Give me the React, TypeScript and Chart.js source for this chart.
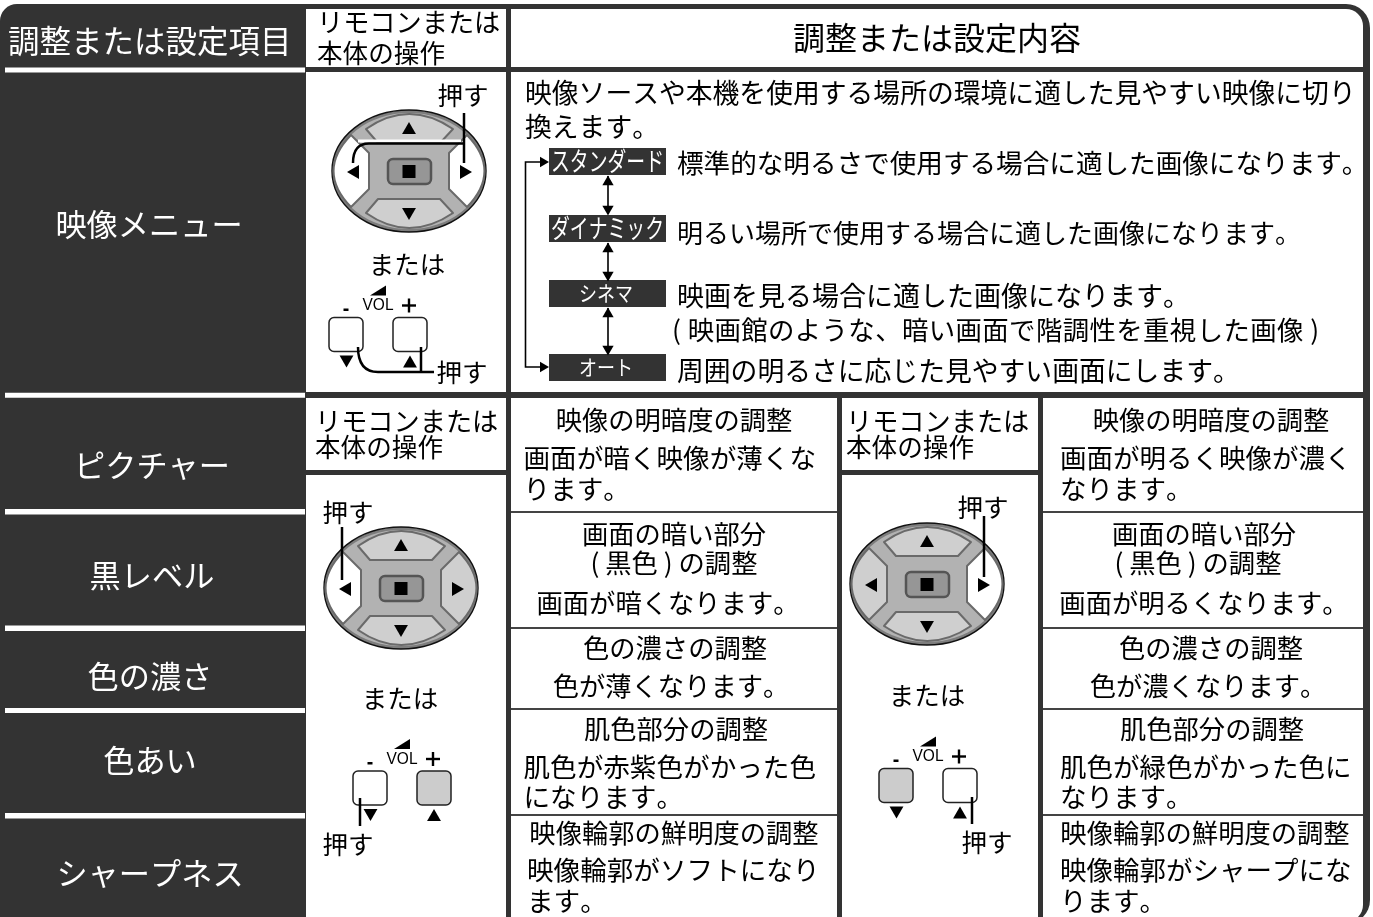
import React, { useEffect, useRef } from "react";
import { Chart, registerables } from "chart.js";

Chart.register(...registerables);

const FONT = '"Noto Sans CJK JP", "Noto Sans", sans-serif';
const DARK = "#333333";

// ---- text content ----
const headerTitles = ["調整または設定項目", "調整または設定内容"];
const controlHeader = ["リモコンまたは", "本体の操作"];
const rowLabels = ["映像メニュー", "ピクチャー", "黒レベル", "色の濃さ", "色あい", "シャープネス"];
const introLines = ["映像ソースや本機を使用する場所の環境に適した見やすい映像に切り", "換えます。"];
const modeNames = ["スタンダード", "ダイナミック", "シネマ", "オート"];
const modeTexts = [
  "標準的な明るさで使用する場合に適した画像になります。",
  "明るい場所で使用する場合に適した画像になります。",
  "映画を見る場合に適した画像になります。",
  "( 映画館のような、暗い画面で階調性を重視した画像 )",
  "周囲の明るさに応じた見やすい画面にします。",
];
const columnATitles = ["映像の明暗度の調整", "画面の暗い部分", "( 黒色 ) の調整", "画面が暗くなります。", "色の濃さの調整", "色が薄くなります。", "肌色部分の調整", "映像輪郭の鮮明度の調整"];
const columnBTitles = ["映像の明暗度の調整", "画面の暗い部分", "( 黒色 ) の調整", "画面が明るくなります。", "色の濃さの調整", "色が濃くなります。", "肌色部分の調整", "映像輪郭の鮮明度の調整"];
const columnAWrapped = ["画面が暗く映像が薄くな", "ります。", "肌色が赤紫色がかった色", "になります。", "映像輪郭がソフトになり", "ます。"];
const columnBWrapped = ["画面が明るく映像が濃く", "なります。", "肌色が緑色がかった色に", "なります。", "映像輪郭がシャープにな", "ります。"];
const pressLabel = "押す";
const orLabel = "または";
const volLabel = "VOL";

// ---- layout (separate from the content above) ----
const rowLabelPos = [[149, 224], [152, 465], [152, 575], [150, 676], [150, 760], [150, 873]];
const leftStrips = [[67.5, 72.5], [392.7, 397.7], [509, 514.5], [625.5, 631], [708, 713], [813, 818.5]];
const columnTitleY = [420, 534, 563, 603, 648, 686, 729, 833];
const columnAX = [674, 674, 674, 668, 675, 671, 676, 674];
const columnBX = [1211, 1204, 1198, 1204, 1211, 1208, 1212, 1205];
const wrappedY = [458, 489, 767, 797, 870, 901];
const thinRules = [512, 628, 709, 815];
const modeBadgeY = [[148, 175], [215, 242], [280, 307], [354, 381]];
const modeTextPos = [[677, 163], [677, 233], [677, 296], [672, 330], [677, 371]];
const modeTextSize = [26.6, 26, 27, 26.4, 26.8];
const modeTextSpacing = ["0px", "0px", "0px", "0.4px", "0px"];
const dpads = [
  { x: 409, y: 171, lit: ["l", "r"] },
  { x: 401, y: 588, lit: ["l"] },
  { x: 927, y: 584, lit: ["r"] },
];
const vols = [
  { x: 378, y: 305.5, fill: "" },
  { x: 402, y: 759, fill: "r" },
  { x: 928, y: 756.5, fill: "l" },
];
const pressPos = [[463, 95], [462, 372], [348, 512], [348, 844], [983, 507], [987, 842]];
const orPos = [[407, 264], [400, 698], [927, 695]];
const modeArrowX = 608;

const bigUp: { x: number; y: number }[] = [];
const bigDown: { x: number; y: number }[] = [];
const bigLeft: { x: number; y: number }[] = [];
const bigRight: { x: number; y: number }[] = [];
dpads.forEach((d) => {
  bigUp.push({ x: d.x, y: d.y - 41 });
  bigDown.push({ x: d.x, y: d.y + 41 });
  bigLeft.push({ x: d.x - 54, y: d.y + 1 });
  bigRight.push({ x: d.x + 55, y: d.y + 1 });
});
vols.forEach((v) => {
  bigDown.push({ x: v.x - 31.5, y: v.y + 54 });
  bigUp.push({ x: v.x + 32, y: v.y + 58 });
});
const smallUp = [{ x: modeArrowX, y: 182 }, { x: modeArrowX, y: 249 }, { x: modeArrowX, y: 314 }];
const smallDown = [{ x: modeArrowX, y: 209 }, { x: modeArrowX, y: 275 }, { x: modeArrowX, y: 349 }];
const smallRight = [{ x: 543, y: 162 }, { x: 543, y: 367 }];

function triSet(data: { x: number; y: number }[], rot: number, r: number) {
  return {
    type: "scatter" as const,
    data,
    pointStyle: "triangle",
    pointRotation: rot,
    pointRadius: r,
    pointHoverRadius: r,
    backgroundColor: "#000",
    borderWidth: 0,
    showLine: false,
    clip: false,
  };
}

const framePlugin = {
  id: "panel",
  beforeDatasetsDraw(chart: any) {
    const c: CanvasRenderingContext2D = chart.ctx;
    const X = (v: number) => chart.scales.x.getPixelForValue(v);
    const Y = (v: number) => chart.scales.y.getPixelForValue(v);
    const box = (x0: number, y0: number, x1: number, y1: number, fill: string, rad: number[] = [0]) => {
      c.beginPath();
      c.roundRect(X(x0), Y(y0), X(x1) - X(x0), Y(y1) - Y(y0), rad);
      c.fillStyle = fill;
      c.fill();
    };
    c.save();
    box(0, 0, 1373, 917, "#fff");
    box(0, 4, 1370, 924, DARK, [17, 24, 24, 0]);
    box(306, 9, 506, 67, "#fff");
    box(511, 9, 1363, 67, "#fff", [0, 17, 0, 0]);
    box(306, 72, 506, 392, "#fff");
    box(511, 72, 1363, 392, "#fff");
    box(306, 398, 506, 470, "#fff");
    box(306, 475, 506, 917, "#fff");
    box(511, 398, 837, 917, "#fff");
    box(842, 398, 1038, 470, "#fff");
    box(842, 475, 1038, 917, "#fff");
    box(1043, 398, 1363, 922, "#fff", [0, 0, 17, 0]);
    leftStrips.forEach(([a, b]) => box(5, a, 305, b, "#fff"));
    thinRules.forEach((y) => {
      box(511, y - 1, 837, y + 1, "#444");
      box(1043, y - 1, 1363, y + 1, "#444");
    });
    modeBadgeY.forEach(([a, b]) => box(549, a, 666, b, DARK));

    // mode loop + double arrows
    c.strokeStyle = "#000";
    c.lineWidth = 1.6;
    c.beginPath();
    c.moveTo(X(542), Y(162));
    c.lineTo(X(525.5), Y(162));
    c.lineTo(X(525.5), Y(367));
    c.lineTo(X(542), Y(367));
    [[176, 214], [243, 279], [308, 353]].forEach(([a, b]) => {
      c.moveTo(X(modeArrowX), Y(a));
      c.lineTo(X(modeArrowX), Y(b));
    });
    c.stroke();

    // direction pads
    dpads.forEach((d) => {
      const P = (dx: number, dy: number): [number, number] => [X(d.x + dx), Y(d.y + dy)];
      c.beginPath();
      c.ellipse(X(d.x), Y(d.y), 77, 61, 0, 0, Math.PI * 2);
      c.fillStyle = "#7d7d7d";
      c.fill();
      c.lineWidth = 1.4;
      c.strokeStyle = "#111";
      c.stroke();
      c.beginPath();
      c.ellipse(X(d.x), Y(d.y), 74, 58, 0, 0, Math.PI * 2);
      c.fillStyle = "#b2b2b2";
      c.fill();
      const lobe = (name: string, pts: number[][]) => {
        c.beginPath();
        c.moveTo(...P(pts[0][0], pts[0][1]));
        c.quadraticCurveTo(...P(pts[1][0], pts[1][1]), ...P(pts[2][0], pts[2][1]));
        c.lineTo(...P(pts[3][0], pts[3][1]));
        c.lineTo(...P(pts[4][0], pts[4][1]));
        c.closePath();
        c.lineJoin = "round";
        c.fillStyle = d.lit.includes(name) ? "#fff" : "#cfcfcf";
        c.fill();
        c.lineWidth = 2;
        c.strokeStyle = "#6a6a6a";
        c.stroke();
      };
      lobe("t", [[-43, -42], [0, -72], [44, -42], [31, -28], [-31, -28]]);
      lobe("b", [[-43, 42], [0, 72], [44, 42], [31, 28], [-31, 28]]);
      lobe("l", [[-58, -36], [-93, 0], [-58, 36], [-40, 18], [-40, -18]]);
      lobe("r", [[58, -36], [93, 0], [58, 36], [40, 18], [40, -18]]);
      c.beginPath();
      c.roundRect(X(d.x - 21), Y(d.y - 12), 43, 25, 5);
      c.fillStyle = "#969696";
      c.fill();
      c.lineWidth = 2.5;
      c.strokeStyle = "#555";
      c.stroke();
      box(d.x - 6.5, d.y - 6, d.x + 6.5, d.y + 7, "#000");
    });

    // volume keys
    vols.forEach((v) => {
      [["l", -49], ["r", 15]].forEach(([name, dx]) => {
        c.beginPath();
        c.roundRect(X(v.x + (dx as number)), Y(v.y + 12), 34, 34, 5);
        c.fillStyle = v.fill === name ? "#cccccc" : "#fff";
        c.fill();
        c.lineWidth = 1.5;
        c.strokeStyle = "#222";
        c.stroke();
      });
      c.beginPath();
      c.moveTo(X(v.x - 8), Y(v.y - 10));
      c.lineTo(X(v.x + 8), Y(v.y - 10));
      c.lineTo(X(v.x + 8), Y(v.y - 20));
      c.closePath();
      c.fillStyle = "#000";
      c.fill();
      box(v.x - 34.5, v.y + 3, v.x - 29.5, v.y + 5.5, "#000");
      box(v.x + 24, v.y - 1.2, v.x + 38, v.y + 1.2, "#000");
      box(v.x + 29.8, v.y - 7, v.x + 32.2, v.y + 7, "#000");
    });
    c.restore();
  },
  afterDatasetsDraw(chart: any) {
    const c: CanvasRenderingContext2D = chart.ctx;
    const X = (v: number) => chart.scales.x.getPixelForValue(v);
    const Y = (v: number) => chart.scales.y.getPixelForValue(v);
    const text = (s: string, x: number, y: number, size: number, color = "#000", align: CanvasTextAlign = "left", maxW?: number, font = FONT) => {
      c.font = `${size}px ${font}`;
      (c as any).fontKerning = "none";
      c.fillStyle = color;
      c.textAlign = align;
      c.textBaseline = "middle";
      if (maxW) c.fillText(s, X(x), Y(y), maxW);
      else c.fillText(s, X(x), Y(y));
    };
    const line = (pts: number[][], w = 2.5, color = "#000") => {
      c.beginPath();
      c.lineWidth = w;
      c.strokeStyle = color;
      pts.forEach((p, i) => (i ? c.lineTo(X(p[0]), Y(p[1])) : c.moveTo(X(p[0]), Y(p[1]))));
      c.stroke();
    };
    c.save();

    // leaders
    line([[358, 141], [461, 141]], 3.2, "#fff");
    line([[464, 113], [464, 163]]);
    c.beginPath();
    c.lineWidth = 2.5;
    c.strokeStyle = "#000";
    c.moveTo(X(464), Y(143.5));
    c.lineTo(X(369), Y(143.5));
    c.quadraticCurveTo(X(353), Y(143.5), X(353), Y(163));
    c.stroke();
    c.beginPath();
    c.moveTo(X(358), Y(347));
    c.quadraticCurveTo(X(358), Y(372), X(378), Y(372));
    c.lineTo(X(434), Y(372));
    c.stroke();
    line([[421, 347], [421, 372]]);
    line([[342, 527], [342, 580]]);
    line([[984, 516], [984, 577]]);
    line([[360, 798], [360, 826]]);
    line([[972, 797], [972, 824]]);

    // header
    text(headerTitles[0], 8, 41, 31.5, "#fff");
    text(headerTitles[1], 937, 38, 32, "#000", "center");
    text(controlHeader[0], 317, 22.5, 26.2);
    text(controlHeader[1], 317, 53, 25.6);
    text(controlHeader[0], 315, 421, 26.2);
    text(controlHeader[1], 315, 447, 25.6);
    text(controlHeader[0], 846, 421, 26.2);
    text(controlHeader[1], 846, 447, 25.6);

    rowLabels.forEach((s, i) => text(s, rowLabelPos[i][0], rowLabelPos[i][1], 31.2, "#fff", "center"));

    text(introLines[0], 525, 93, 26.8);
    text(introLines[1], 525, 127, 26.8);
    modeNames.forEach((s, i) => {
      const mid = (modeBadgeY[i][0] + modeBadgeY[i][1]) / 2;
      if (i < 2) text(s, 607.5, mid, 26, "#fff", "center", 113);
      else text(s, 606, mid, 21, "#fff", "center", 54);
    });
    modeTexts.forEach((s, i) => {
      (c as any).letterSpacing = modeTextSpacing[i];
      text(s, modeTextPos[i][0], modeTextPos[i][1], modeTextSize[i]);
    });
    (c as any).letterSpacing = "0px";

    columnATitles.forEach((s, i) => text(s, columnAX[i], columnTitleY[i], 26.3, "#000", "center"));
    columnBTitles.forEach((s, i) => text(s, columnBX[i], columnTitleY[i], 26.3, "#000", "center"));
    columnAWrapped.forEach((s, i) => text(s, i > 3 ? 527 : 523.5, wrappedY[i], 26.6));
    columnBWrapped.forEach((s, i) => text(s, 1060, wrappedY[i], 26.5));

    pressPos.forEach(([x, y]) => text(pressLabel, x, y, 25.5, "#000", "center"));
    orPos.forEach(([x, y]) => text(orLabel, x, y, 25.5, "#000", "center"));
    vols.forEach((v) => text(volLabel, v.x, v.y, 17, "#000", "center", 31, '"Liberation Sans", sans-serif'));
    c.restore();
  },
};

export default function App() {
  const ref = useRef<HTMLCanvasElement>(null);
  useEffect(() => {
    document.body.style.margin = "0";
    const chart = new Chart(ref.current!, {
      type: "scatter",
      data: {
        datasets: [
          triSet(bigUp, 0, 8),
          triSet(bigDown, 180, 8),
          triSet(bigLeft, 270, 8),
          triSet(bigRight, 90, 8),
          triSet(smallUp, 0, 6.5),
          triSet(smallDown, 180, 6.5),
          triSet(smallRight, 90, 6),
        ] as any,
      },
      options: {
        animation: false,
        responsive: false,
        layout: { padding: 0, autoPadding: false },
        events: [],
        plugins: { legend: { display: false }, tooltip: { enabled: false }, title: { display: false } },
        scales: {
          x: { type: "linear", display: false, min: 0, max: 1373 },
          y: { type: "linear", display: false, min: 0, max: 917, reverse: true },
        },
      },
      plugins: [framePlugin],
    });
    return () => chart.destroy();
  }, []);
  return <canvas ref={ref} width={1373} height={917} style={{ display: "block" }} />;
}
